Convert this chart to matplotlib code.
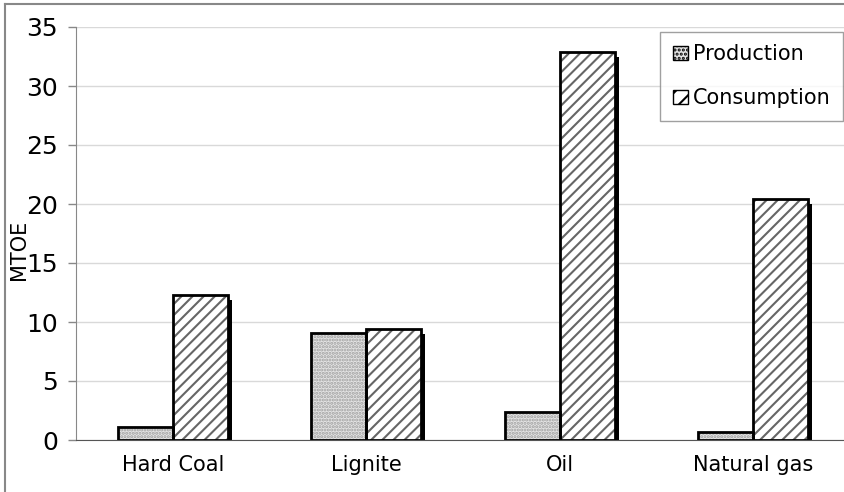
import matplotlib as mpl
mpl.use('Agg')
from matplotlib import pyplot as plt
from matplotlib.transforms import ScaledTranslation
from matplotlib.patches import Patch
from matplotlib.lines import Line2D
import numpy as np

categories = ['Hard Coal', 'Lignite', 'Oil', 'Natural gas']
production = [1.1, 9.1, 2.4, 0.65]
consumption = [12.3, 9.4, 32.9, 20.4]
yticks = [0, 5, 10, 15, 20, 25, 30, 35]

plt.rcParams['hatch.linewidth'] = 1.5

fig = plt.figure(figsize=(8.45, 4.92), dpi=100)
ax = fig.add_axes([76/845, 52/492, 774/845, 413/492])

x = np.arange(len(categories))
w = 0.285

# shadows behind the bars
shadow = ax.transData + ScaledTranslation(4/100, -5/100, fig.dpi_scale_trans)
ax.bar(x - w/2, production, w, color='black', transform=shadow, zorder=2)
ax.bar(x + w/2, consumption, w, color='black', transform=shadow, zorder=2)

# fill + hatch
ax.bar(x - w/2, production, w, facecolor='#e4e4e4', edgecolor='#a0a0a0',
       hatch='.....', linewidth=0, zorder=3)
ax.bar(x + w/2, consumption, w, facecolor='white', edgecolor='#666666',
       hatch='///', linewidth=0, zorder=3)
# outlines
ax.bar(x - w/2, production, w, fill=False, edgecolor='black', linewidth=2, zorder=4)
ax.bar(x + w/2, consumption, w, fill=False, edgecolor='black', linewidth=2, zorder=4)

ax.set_xlim(-0.5, 3.5)
ax.set_ylim(0, 35)
ax.set_yticks(yticks)
ax.set_xticks(x)
ax.set_xticklabels(categories, fontsize=15)
ax.tick_params(axis='y', labelsize=18, length=6, width=1, color='#888888', pad=7)
ax.tick_params(axis='x', length=0, pad=11)

ax.grid(axis='y', color='#d9d9d9', linewidth=1)
ax.set_axisbelow(True)
for s in ['top', 'right']:
    ax.spines[s].set_visible(False)
ax.spines['left'].set_color('#888888')
ax.spines['bottom'].set_color('#555555')
ax.spines['bottom'].set_zorder(5)

ax.set_ylabel('MTOE', fontsize=15)
ax.yaxis.set_label_coords(-0.061, 0.46)

handles = [Patch(facecolor='#e4e4e4', edgecolor='black', hatch='....', linewidth=1),
           Patch(facecolor='white', edgecolor='black', hatch='//', linewidth=1)]
leg = ax.legend(handles, ['Production', 'Consumption'], loc='upper right',
                bbox_to_anchor=(0.991, 0.988), fontsize=15, frameon=True, fancybox=False,
                handlelength=0.7, handleheight=0.7, handletextpad=0.25,
                labelspacing=1.15, borderpad=0.6, borderaxespad=0)
leg.get_frame().set_edgecolor('#888888')
leg.get_frame().set_linewidth(1)

# outer chart border
fig.add_artist(Line2D([5/845, 5/845], [0, 1 - 4/492], color='#888888', lw=1.5))
fig.add_artist(Line2D([5/845, 1], [1 - 4/492, 1 - 4/492], color='#888888', lw=1.5))

plt.savefig('out.png', dpi=100)
plt.close()
